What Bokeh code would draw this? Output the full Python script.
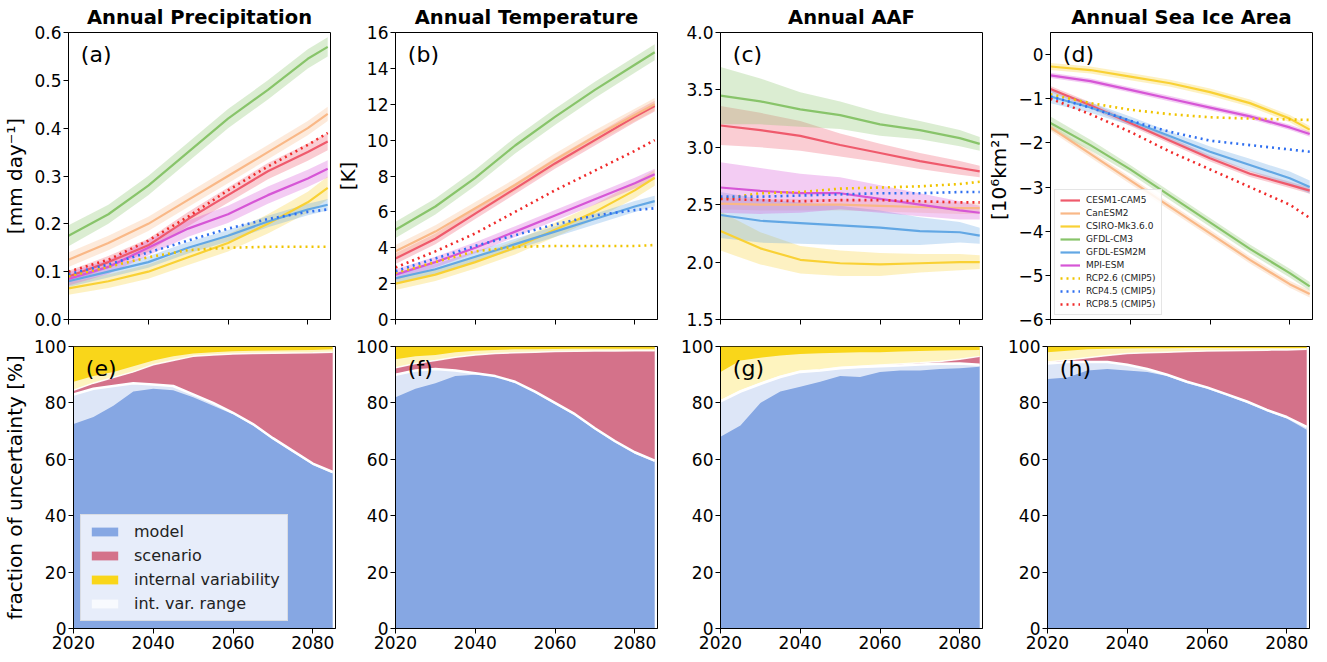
from bokeh.plotting import figure
from bokeh.models import Range1d, FixedTicker, NumeralTickFormatter, Legend, LegendItem, Label
from bokeh.layouts import column, row
from bokeh.embed import file_html
from bokeh.resources import INLINE

# ---------------- data ----------------
YEARS = [2020, 2030, 2040, 2050, 2060, 2070, 2080, 2085]
MODELS = ["CESM1-CAM5", "CanESM2", "CSIRO-Mk3.6.0", "GFDL-CM3", "GFDL-ESM2M", "MPI-ESM"]
RCPS = ["RCP2.6 (CMIP5)", "RCP4.5 (CMIP5)", "RCP8.5 (CMIP5)"]

precip_mean = {
    "CESM1-CAM5":    [0.090, 0.120, 0.155, 0.210, 0.260, 0.310, 0.350, 0.372],
    "CanESM2":       [0.125, 0.160, 0.200, 0.250, 0.300, 0.350, 0.400, 0.430],
    "CSIRO-Mk3.6.0": [0.065, 0.080, 0.100, 0.130, 0.160, 0.200, 0.245, 0.275],
    "GFDL-CM3":      [0.175, 0.220, 0.280, 0.350, 0.420, 0.480, 0.545, 0.570],
    "GFDL-ESM2M":    [0.080, 0.100, 0.120, 0.150, 0.175, 0.205, 0.230, 0.240],
    "MPI-ESM":       [0.085, 0.110, 0.150, 0.190, 0.220, 0.260, 0.295, 0.315],
}
precip_spread = {
    "CESM1-CAM5":    [0.012, 0.013, 0.014, 0.015, 0.016, 0.017, 0.018, 0.018],
    "CanESM2":       [0.015, 0.015, 0.015, 0.015, 0.015, 0.015, 0.015, 0.015],
    "CSIRO-Mk3.6.0": [0.013, 0.014, 0.015, 0.016, 0.018, 0.020, 0.022, 0.024],
    "GFDL-CM3":      [0.022, 0.020, 0.020, 0.020, 0.020, 0.020, 0.020, 0.020],
    "GFDL-ESM2M":    [0.012, 0.012, 0.012, 0.012, 0.012, 0.012, 0.012, 0.012],
    "MPI-ESM":       [0.014, 0.015, 0.016, 0.017, 0.018, 0.018, 0.018, 0.018],
}
precip_rcp = {
    "RCP2.6 (CMIP5)": [0.090, 0.110, 0.130, 0.145, 0.150, 0.152, 0.152, 0.152],
    "RCP4.5 (CMIP5)": [0.095, 0.115, 0.140, 0.165, 0.190, 0.210, 0.225, 0.230],
    "RCP8.5 (CMIP5)": [0.100, 0.125, 0.165, 0.215, 0.270, 0.320, 0.365, 0.390],
}

temp_mean = {
    "CESM1-CAM5":    [3.4, 4.5, 5.9, 7.3, 8.7, 10.0, 11.3, 11.9],
    "CanESM2":       [3.8, 4.9, 6.2, 7.5, 8.9, 10.2, 11.4, 12.0],
    "CSIRO-Mk3.6.0": [2.0, 2.5, 3.2, 4.0, 5.0, 6.0, 7.2, 7.9],
    "GFDL-CM3":      [5.0, 6.3, 7.9, 9.7, 11.3, 12.8, 14.2, 14.9],
    "GFDL-ESM2M":    [2.3, 2.8, 3.5, 4.2, 4.9, 5.6, 6.3, 6.6],
    "MPI-ESM":       [2.5, 3.2, 4.0, 4.9, 5.8, 6.7, 7.6, 8.1],
}
temp_spread = {
    "CESM1-CAM5":    [0.30, 0.30, 0.30, 0.30, 0.30, 0.30, 0.30, 0.30],
    "CanESM2":       [0.35, 0.35, 0.35, 0.35, 0.35, 0.35, 0.35, 0.35],
    "CSIRO-Mk3.6.0": [0.35, 0.35, 0.36, 0.38, 0.40, 0.42, 0.44, 0.45],
    "GFDL-CM3":      [0.45, 0.45, 0.45, 0.45, 0.45, 0.45, 0.45, 0.45],
    "GFDL-ESM2M":    [0.30, 0.30, 0.30, 0.30, 0.30, 0.30, 0.30, 0.30],
    "MPI-ESM":       [0.30, 0.30, 0.30, 0.30, 0.30, 0.30, 0.30, 0.30],
}
temp_rcp = {
    "RCP2.6 (CMIP5)": [2.6, 3.2, 3.8, 4.05, 4.1, 4.1, 4.1, 4.15],
    "RCP4.5 (CMIP5)": [2.7, 3.4, 4.1, 4.7, 5.3, 5.8, 6.1, 6.2],
    "RCP8.5 (CMIP5)": [2.9, 3.8, 4.8, 6.0, 7.2, 8.3, 9.4, 10.0],
}

aaf_mean = {
    "CESM1-CAM5":    [3.19, 3.15, 3.10, 3.02, 2.95, 2.88, 2.82, 2.79],
    "CanESM2":       [2.51, 2.50, 2.50, 2.50, 2.49, 2.48, 2.47, 2.47],
    "CSIRO-Mk3.6.0": [2.27, 2.12, 2.02, 1.99, 1.98, 1.99, 2.00, 2.00],
    "GFDL-CM3":      [3.45, 3.40, 3.33, 3.28, 3.20, 3.15, 3.08, 3.03],
    "GFDL-ESM2M":    [2.41, 2.36, 2.34, 2.32, 2.30, 2.27, 2.26, 2.23],
    "MPI-ESM":       [2.65, 2.62, 2.60, 2.60, 2.55, 2.50, 2.45, 2.43],
}
aaf_spread = {
    "CESM1-CAM5":    [0.17, 0.15, 0.13, 0.10, 0.08, 0.07, 0.06, 0.05],
    "CanESM2":       [0.05, 0.05, 0.05, 0.05, 0.05, 0.05, 0.05, 0.05],
    "CSIRO-Mk3.6.0": [0.17, 0.14, 0.12, 0.11, 0.10, 0.08, 0.07, 0.06],
    "GFDL-CM3":      [0.25, 0.20, 0.15, 0.12, 0.10, 0.08, 0.07, 0.06],
    "GFDL-ESM2M":    [0.20, 0.19, 0.18, 0.17, 0.15, 0.12, 0.09, 0.07],
    "MPI-ESM":       [0.22, 0.20, 0.17, 0.14, 0.12, 0.10, 0.08, 0.06],
}
aaf_rcp = {
    "RCP2.6 (CMIP5)": [2.55, 2.60, 2.61, 2.64, 2.65, 2.66, 2.68, 2.70],
    "RCP4.5 (CMIP5)": [2.57, 2.57, 2.58, 2.59, 2.60, 2.60, 2.61, 2.61],
    "RCP8.5 (CMIP5)": [2.55, 2.54, 2.53, 2.54, 2.54, 2.53, 2.52, 2.52],
}

ice_mean = {
    "CESM1-CAM5":    [-0.78, -1.15, -1.55, -1.95, -2.35, -2.70, -2.95, -3.08],
    "CanESM2":       [-1.65, -2.25, -2.85, -3.45, -4.05, -4.65, -5.20, -5.42],
    "CSIRO-Mk3.6.0": [-0.27, -0.35, -0.50, -0.65, -0.85, -1.10, -1.45, -1.70],
    "GFDL-CM3":      [-1.55, -2.05, -2.60, -3.20, -3.80, -4.40, -4.95, -5.25],
    "GFDL-ESM2M":    [-0.95, -1.20, -1.50, -1.85, -2.20, -2.50, -2.80, -3.00],
    "MPI-ESM":       [-0.47, -0.60, -0.80, -1.00, -1.20, -1.40, -1.65, -1.80],
}
ice_spread = {
    "CESM1-CAM5":    [0.07, 0.07, 0.07, 0.07, 0.07, 0.07, 0.07, 0.07],
    "CanESM2":       [0.08, 0.08, 0.08, 0.08, 0.08, 0.08, 0.08, 0.08],
    "CSIRO-Mk3.6.0": [0.08, 0.08, 0.08, 0.08, 0.08, 0.08, 0.08, 0.08],
    "GFDL-CM3":      [0.15, 0.12, 0.10, 0.10, 0.10, 0.10, 0.10, 0.10],
    "GFDL-ESM2M":    [0.15, 0.12, 0.10, 0.10, 0.12, 0.14, 0.15, 0.15],
    "MPI-ESM":       [0.06, 0.06, 0.06, 0.06, 0.06, 0.06, 0.06, 0.06],
}
ice_rcp = {
    "RCP2.6 (CMIP5)": [-0.90, -1.10, -1.25, -1.35, -1.42, -1.45, -1.47, -1.48],
    "RCP4.5 (CMIP5)": [-0.95, -1.20, -1.50, -1.75, -1.95, -2.05, -2.15, -2.20],
    "RCP8.5 (CMIP5)": [-1.00, -1.35, -1.75, -2.20, -2.60, -3.00, -3.40, -3.70],
}

# uncertainty fractions [%], every 5 years
FRAC_YEARS = [2020, 2025, 2030, 2035, 2040, 2045, 2050, 2055, 2060, 2065, 2070, 2075, 2080, 2085]

e_model    = [83.0, 85.0, 86.0, 87.0, 86.5, 86.0, 83.0, 80.0, 76.5, 72.5, 67.5, 63.0, 58.5, 55.5]
e_model_lo = [72.5, 75.0, 79.0, 84.0, 85.0, 84.5, 82.0, 79.0, 76.0, 72.0, 67.0, 62.5, 58.0, 55.0]
e_total    = [84.5, 87.0, 89.0, 91.0, 93.5, 95.0, 96.5, 97.0, 97.3, 97.5, 97.6, 97.7, 97.8, 98.0]
e_total_hi = [87.5, 89.5, 91.0, 93.0, 95.0, 96.5, 97.5, 98.0, 98.3, 98.5, 98.6, 98.7, 98.8, 99.0]

f_model    = [90.0, 91.5, 92.0, 91.5, 90.5, 89.5, 87.5, 84.0, 80.0, 76.0, 71.0, 66.5, 62.5, 59.5]
f_model_lo = [82.0, 85.0, 87.0, 89.5, 90.0, 89.5, 87.0, 83.5, 79.5, 75.5, 70.5, 66.0, 62.0, 59.0]
f_total    = [92.5, 94.0, 95.0, 96.2, 97.0, 97.5, 97.8, 98.0, 98.2, 98.3, 98.4, 98.4, 98.5, 98.5]
f_total_hi = [95.5, 96.5, 97.0, 98.0, 98.5, 98.8, 99.0, 99.0, 99.1, 99.2, 99.2, 99.2, 99.2, 99.2]

g_model    = [80.5, 84.0, 86.7, 89.2, 91.0, 91.5, 92.3, 92.7, 93.0, 93.3, 93.6, 93.9, 94.0, 93.5]
g_model_lo = [68.0, 72.0, 80.0, 84.0, 85.7, 87.5, 89.5, 89.2, 91.0, 91.5, 91.5, 92.0, 92.3, 92.8]
g_total    = [80.8, 84.3, 87.0, 89.5, 91.3, 91.8, 92.6, 93.0, 93.4, 93.8, 94.2, 94.7, 95.5, 96.5]
g_total_hi = [91.0, 95.0, 96.0, 96.8, 97.3, 97.6, 97.8, 98.0, 98.0, 98.2, 98.4, 98.6, 98.7, 98.8]

h_model    = [94.0, 94.5, 94.5, 94.5, 93.5, 92.0, 90.0, 87.5, 85.5, 83.0, 80.5, 77.5, 75.0, 71.5]
h_model_lo = [88.5, 89.0, 91.5, 92.0, 91.5, 91.0, 89.5, 87.0, 85.0, 82.5, 80.0, 77.0, 74.5, 70.5]
h_total    = [94.5, 95.2, 96.0, 96.8, 97.5, 97.8, 98.0, 98.2, 98.4, 98.5, 98.6, 98.7, 98.8, 99.0]
h_total_hi = [98.0, 98.5, 99.0, 99.2, 99.3, 99.4, 99.4, 99.5, 99.5, 99.5, 99.5, 99.5, 99.5, 99.5]

X_TICKS = [2020, 2040, 2060, 2080]

# ---------------- style ----------------
FONT = "DejaVu Sans"
COLORS = {
    "CESM1-CAM5": "#ef5a6c",
    "CanESM2": "#f9b887",
    "CSIRO-Mk3.6.0": "#f9d135",
    "GFDL-CM3": "#88c46a",
    "GFDL-ESM2M": "#62a7e4",
    "MPI-ESM": "#d656d6",
    "RCP2.6 (CMIP5)": "#f0c400",
    "RCP4.5 (CMIP5)": "#2f6ff0",
    "RCP8.5 (CMIP5)": "#f02a2a",
}
C_MODEL = "#86a7e3"
C_SCEN = "#d4728a"
C_IV = "#f9d61a"

FW = 262
LEFTS = [67, 58, 61, 63]
XR = (2020, 2085.7)


def style_axes(p, show_xlabels):
    p.grid.visible = False
    p.outline_line_color = "black"
    p.outline_line_width = 1
    for ax in (p.xaxis[0], p.yaxis[0]):
        ax.axis_line_color = "black"
        ax.major_tick_line_color = "black"
        ax.minor_tick_line_color = None
        ax.major_tick_in = 0
        ax.major_tick_out = 5
        ax.major_label_text_font = FONT
        ax.major_label_text_font_size = "17px"
        ax.major_label_text_color = "black"
        ax.major_label_standoff = 2
        ax.axis_label_text_font = FONT
        ax.axis_label_text_font_size = "20px"
        ax.axis_label_text_font_style = "normal"
        ax.axis_label_text_color = "black"
        ax.axis_label_standoff = 4
    p.xaxis.ticker = FixedTicker(ticks=X_TICKS)
    if not show_xlabels:
        p.xaxis.major_label_overrides = {t: "" for t in X_TICKS}
        p.xaxis.major_label_text_font_size = "2px"
        p.xaxis.major_label_standoff = 0


def panel_label(p, text, ylo, yhi, fh):
    p.add_layout(Label(x=2023.1, y=yhi - 9.0 / fh * (yhi - ylo), text=text,
                       text_baseline="top", text_align="left",
                       text_font=FONT, text_font_size="22px", text_color="black"))


def top_fig(i, title, mean, spread, rcp, ylo, yhi, yticks, ylabel, letter, fmt=None,
            overrides=None, legend=False):
    fh = 287
    p = figure(frame_width=FW, frame_height=fh, x_range=Range1d(*XR),
               y_range=Range1d(ylo, yhi), output_backend="svg", toolbar_location=None,
               min_border_left=LEFTS[i], min_border_right=2, min_border_top=24,
               min_border_bottom=12, title=title)
    p.title.text_font = FONT
    p.title.text_font_size = "19.5px"
    p.title.text_font_style = "bold"
    p.title.align = "center"
    p.title.standoff = 7
    p.title.text_color = "black"
    style_axes(p, False)
    p.yaxis.ticker = FixedTicker(ticks=yticks)
    if fmt:
        p.yaxis.formatter = NumeralTickFormatter(format=fmt)
    if overrides:
        p.yaxis.major_label_overrides = overrides
    if ylabel:
        p.yaxis.axis_label = ylabel
    items = []
    for m in MODELS:
        lo = [a - b for a, b in zip(mean[m], spread[m])]
        hi = [a + b for a, b in zip(mean[m], spread[m])]
        p.varea(x=YEARS, y1=lo, y2=hi, fill_color=COLORS[m], fill_alpha=0.3)
    for m in MODELS:
        r = p.line(YEARS, mean[m], line_color=COLORS[m], line_width=2.2)
        items.append(LegendItem(label=m, renderers=[r]))
    for k in RCPS:
        r = p.line(YEARS, rcp[k], line_color=COLORS[k], line_width=2.6, line_dash="2 4")
        items.append(LegendItem(label=k, renderers=[r]))
    if legend:
        lg = Legend(items=items, location="bottom_left")
        lg.label_text_font = FONT
        lg.label_text_font_size = "9px"
        lg.label_text_color = "#222222"
        lg.glyph_width = 20
        lg.glyph_height = 10
        lg.label_height = 10
        lg.label_standoff = 6
        lg.spacing = 3
        lg.padding = 5
        lg.margin = 4
        lg.border_line_color = "#cccccc"
        lg.background_fill_alpha = 0.85
        p.add_layout(lg)
    panel_label(p, letter, ylo, yhi, fh)
    return p


def bottom_fig(i, model, model_lo, total, total_hi, letter, ylabel=None, legend=False):
    fh = 282
    p = figure(frame_width=FW, frame_height=fh, x_range=Range1d(*XR),
               y_range=Range1d(0, 100), output_backend="svg", toolbar_location=None,
               min_border_left=LEFTS[i], min_border_right=2, min_border_top=15,
               min_border_bottom=26)
    style_axes(p, True)
    p.yaxis.ticker = FixedTicker(ticks=[0, 20, 40, 60, 80, 100])
    if ylabel:
        p.yaxis.axis_label = ylabel
    r_m = p.varea(x=FRAC_YEARS, y1=0, y2=model, fill_color=C_MODEL)
    r_s = p.varea(x=FRAC_YEARS, y1=model, y2=total, fill_color=C_SCEN)
    r_i = p.varea(x=FRAC_YEARS, y1=total, y2=100, fill_color=C_IV)
    r_r = p.varea(x=FRAC_YEARS, y1=model_lo, y2=model, fill_color="white", fill_alpha=0.72)
    p.varea(x=FRAC_YEARS, y1=total, y2=total_hi, fill_color="white", fill_alpha=0.72)
    p.line(FRAC_YEARS, model, line_color="white", line_width=2.5)
    p.line(FRAC_YEARS, total, line_color="white", line_width=1.5, line_alpha=0.9)
    if legend:
        lg = Legend(items=[LegendItem(label="model", renderers=[r_m]),
                           LegendItem(label="scenario", renderers=[r_s]),
                           LegendItem(label="internal variability", renderers=[r_i]),
                           LegendItem(label="int. var. range", renderers=[r_r])],
                    location="bottom_left")
        lg.label_text_font = FONT
        lg.label_text_font_size = "16px"
        lg.label_text_color = "#222222"
        lg.glyph_width = 33
        lg.glyph_height = 11
        lg.label_height = 16
        lg.label_standoff = 13
        lg.spacing = 5
        lg.padding = 7
        lg.margin = 7
        lg.border_line_color = "#cccccc"
        lg.background_fill_alpha = 0.8
        p.add_layout(lg)
    panel_label(p, letter, 0, 100, fh)
    return p


MINUS = {0: "0", -1: "\u22121", -2: "\u22122", -3: "\u22123", -4: "\u22124", -5: "\u22125", -6: "\u22126"}

pa = top_fig(0, "Annual Precipitation", precip_mean, precip_spread, precip_rcp, 0.0, 0.6,
             [0.0, 0.1, 0.2, 0.3, 0.4, 0.5, 0.6], "[mm day\u207b\u00b9]", "(a)", fmt="0.0")
pb = top_fig(1, "Annual Temperature", temp_mean, temp_spread, temp_rcp, 0, 16,
             [0, 2, 4, 6, 8, 10, 12, 14, 16], "[K]", "(b)")
pc = top_fig(2, "Annual AAF", aaf_mean, aaf_spread, aaf_rcp, 1.5, 4.0,
             [1.5, 2.0, 2.5, 3.0, 3.5, 4.0], None, "(c)", fmt="0.0")
pd = top_fig(3, "Annual Sea Ice Area", ice_mean, ice_spread, ice_rcp, -6, 0.5,
             [-6, -5, -4, -3, -2, -1, 0], "[10\u2076km\u00b2]", "(d)", overrides=MINUS, legend=True)

pe = bottom_fig(0, e_model, e_model_lo, e_total, e_total_hi, "(e)",
                ylabel="fraction of uncertainty [%]", legend=True)
pf = bottom_fig(1, f_model, f_model_lo, f_total, f_total_hi, "(f)")
pg = bottom_fig(2, g_model, g_model_lo, g_total, g_total_hi, "(g)")
ph = bottom_fig(3, h_model, h_model_lo, h_total, h_total_hi, "(h)")

layout = column(row(pa, pb, pc, pd), row(pe, pf, pg, ph))
open("out.html", "w").write(file_html(layout, INLINE, title="Uncertainty"))
